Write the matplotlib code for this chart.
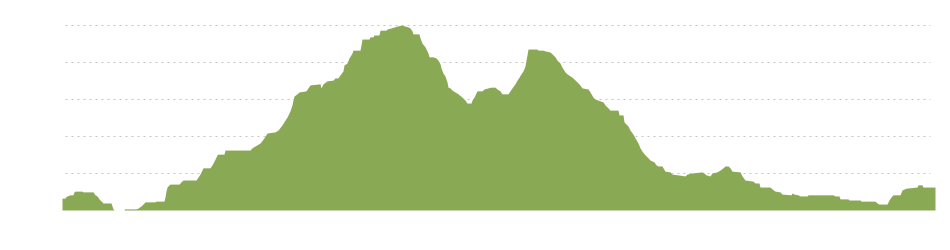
import matplotlib
matplotlib.use("Agg")
import matplotlib.pyplot as plt

# distance along the route (km) and elevation (m)
distance_km = [
    0.0, 0.3, 0.35, 0.5, 0.8, 1.1, 1.2, 1.3, 2.0, 2.1, 3.1, 3.3, 3.5, 3.7, 4.0, 4.1, 4.9, 5.0, 5.1, 5.2,
    6.2, 6.25, 7.4, 7.6, 7.9, 8.1, 8.3, 9.3, 9.4, 10.2, 10.3, 10.4, 10.5, 10.7, 10.8, 11.7, 11.9, 12.1,
    13.4, 13.6, 13.8, 14.0, 14.1, 14.8, 15.0, 15.2, 15.4, 15.5, 15.6, 16.2, 16.3, 18.8, 19.0, 19.3, 19.8,
    20.2, 20.5, 21.3, 21.6, 22.0, 22.3, 22.5, 22.8, 23.0, 23.1, 23.2, 23.5, 23.7, 24.4, 24.6, 24.8, 25.8,
    25.9, 26.1, 26.5, 27.1, 27.3, 27.6, 27.8, 28.1, 28.2, 28.5, 28.7, 29.0, 29.1, 29.8, 29.9, 30.0, 30.7,
    30.8, 31.1, 31.2, 31.7, 31.8, 32.4, 32.5, 32.9, 33.5, 34.0, 34.3, 34.6, 34.8, 35.0, 35.1, 35.7, 35.8,
    36.0, 36.3, 36.6, 36.7, 37.1, 37.4, 37.6, 37.8, 37.9, 38.1, 38.3, 38.5, 38.6, 38.8, 39.0, 39.3, 39.6,
    40.0, 40.3, 40.5, 40.9, 41.0, 41.2, 41.5, 42.0, 42.2, 42.6, 42.9, 43.3, 43.5, 43.8, 44.0, 44.6, 44.8,
    45.0, 45.3, 45.5, 45.7, 45.9, 46.1, 46.3, 46.4, 46.5, 46.6, 47.5, 47.6, 48.1, 48.3, 48.8, 49.0, 49.3,
    49.5, 49.8, 50.0, 50.3, 50.5, 51.0, 51.2, 51.5, 51.7, 52.0, 52.6, 52.8, 53.1, 53.3, 53.8, 54.1, 54.3,
    54.6, 54.8, 55.6, 55.7, 56.1, 56.2, 56.6, 56.8, 57.1, 57.3, 57.6, 57.8, 58.0, 58.3, 58.6, 58.8, 59.2,
    59.4, 59.6, 60.0, 60.1, 60.3, 60.8, 61.0, 61.6, 62.3, 62.5, 63.0, 64.0, 64.2, 64.4, 64.8, 65.0, 65.5,
    65.8, 66.1, 66.3, 66.6, 66.8, 67.0, 67.8, 68.0, 68.3, 69.1, 69.3, 69.7, 69.8, 70.8, 71.0, 71.3, 71.8,
    72.0, 72.9, 73.0, 73.2, 73.6, 73.8, 74.5, 74.6, 77.1, 77.3, 77.7, 77.8, 78.6, 78.7, 79.8, 79.9, 81.3,
    81.5, 81.7, 82.5, 82.7, 82.9, 83.1, 83.8, 84.0, 84.4, 85.5, 85.6, 86.0, 86.1, 87.3,
]
elevation_m = [
    32, 32, 35, 38, 41, 41, 49, 51, 51, 49, 49, 41, 38, 30, 22, 19, 19, 11, 3, 0,
    0, 3, 3, 5, 11, 16, 22, 22, 24, 24, 35, 51, 62, 68, 70, 70, 76, 81,
    81, 89, 97, 108, 114, 114, 122, 132, 143, 149, 151, 151, 162, 162, 168, 173, 181,
    195, 208, 211, 216, 230, 243, 251, 268, 284, 297, 308, 314, 319, 322, 330, 338, 341,
    330, 341, 349, 351, 357, 357, 365, 376, 392, 397, 411, 424, 432, 432, 446, 462, 462,
    468, 468, 473, 473, 486, 486, 489, 492, 497, 500, 497, 495, 492, 484, 476, 476, 465,
    451, 441, 424, 414, 414, 411, 405, 395, 384, 370, 362, 346, 332, 330, 324, 319, 314,
    305, 297, 289, 289, 297, 305, 322, 322, 327, 330, 332, 332, 327, 322, 314, 314, 322,
    330, 341, 351, 359, 368, 376, 389, 405, 419, 435, 435, 432, 432, 430, 427, 422, 414,
    405, 397, 386, 373, 368, 359, 354, 346, 341, 330, 327, 319, 305, 300, 295, 292, 284,
    276, 270, 270, 257, 257, 238, 227, 216, 205, 195, 181, 168, 159, 149, 141, 135, 130,
    122, 119, 119, 114, 105, 103, 97, 95, 92, 97, 100, 103, 100, 95, 92, 100, 103,
    108, 114, 119, 119, 114, 105, 103, 92, 81, 78, 73, 73, 62, 62, 57, 51, 49,
    43, 41, 46, 43, 41, 38, 38, 41, 41, 38, 38, 30, 30, 27, 27, 24, 24,
    19, 16, 16, 27, 35, 41, 41, 54, 59, 62, 68, 68, 62, 62,
]
grid_levels = [100, 200, 300, 400, 500]

fig = plt.figure(figsize=(9.5, 2.5), dpi=100)
ax = fig.add_axes([62 / 950, 40 / 250, 873 / 950, 185 / 250])

for g in grid_levels:
    ax.axhline(g, xmin=0.0034, xmax=0.9943, color="#c4c4c4", linewidth=0.72,
               linestyle=(0, (2, 4)), zorder=1)

ax.fill_between(distance_km, 0, elevation_m, color="#8aa954", linewidth=0, zorder=2)

ax.set_xlim(0, 87.3)
ax.set_ylim(0, 500)
ax.axis("off")

fig.savefig("out.png", dpi=100, facecolor="white")
